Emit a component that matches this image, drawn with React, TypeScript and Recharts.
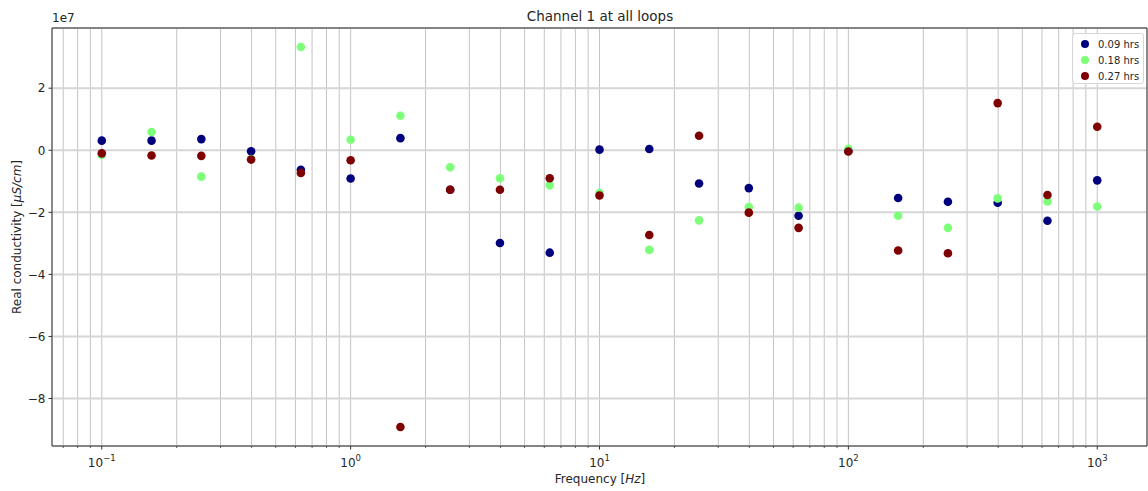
import {
  ScatterChart,
  Scatter,
  XAxis,
  YAxis,
  CartesianGrid,
  ReferenceLine,
} from "recharts";

const FREQ = [
  0.1, 0.1585, 0.2512, 0.3981, 0.631, 1, 1.585, 2.512, 3.981, 6.31, 10,
  15.85, 25.12, 39.81, 63.1, 100, 158.5, 251.2, 398.1, 631, 1000,
];

// values in units of 1e7 µS/cm
const HRS_009 = [
  0.31, 0.31, 0.36, -0.03, -0.63, -0.91, 0.39, -1.27, -2.99, -3.3, 0.02,
  0.04, -1.07, -1.22, -2.11, -0.02, -1.54, -1.66, -1.69, -2.27, -0.97,
];
const HRS_018 = [
  -0.15, 0.59, -0.85, -0.28, 3.33, 0.34, 1.11, -0.55, -0.9, -1.13, -1.38,
  -3.21, -2.26, -1.83, -1.85, 0.05, -2.11, -2.5, -1.55, -1.65, -1.81,
];
const HRS_027 = [
  -0.1, -0.17, -0.18, -0.3, -0.73, -0.32, -8.92, -1.27, -1.27, -0.9, -1.46,
  -2.73, 0.47, -2.01, -2.5, -0.04, -3.23, -3.32, 1.52, -1.44, 0.76,
];

const SERIES_NAMES = ["0.09 hrs", "0.18 hrs", "0.27 hrs"];
const COLORS = ["#00007f", "#7dff7a", "#7f0000"];

const SCALE = 1e7;
const Y_TICKS = [-8, -6, -4, -2, 0, 2];
const X_MAJOR = [0.1, 1, 10, 100, 1000];
const X_MAJOR_LABELS = ["\u22121", "0", "1", "2", "3"];
const X_MINOR_MULT = [2, 3, 4, 5, 6, 7, 8, 9];

const X_MIN = Math.pow(10, -1.2);
const X_MAX = Math.pow(10, 3.2);
const Y_MIN = -9.53 * SCALE;
const Y_MAX = 3.94 * SCALE;

const xTicks: number[] = [];
[0.01, ...X_MAJOR].forEach((d) => {
  if (d >= X_MIN) xTicks.push(d);
  X_MINOR_MULT.forEach((m) => {
    const v = d * m;
    if (v >= X_MIN && v <= X_MAX && v < d * 10) xTicks.push(v);
  });
});
xTicks.sort((a, b) => a - b);

const build = (vals: number[]) =>
  FREQ.map((f, i) => ({ f, v: vals[i] * SCALE }));

const seriesData = [build(HRS_009), build(HRS_018), build(HRS_027)];

const FONT = "'DejaVu Sans', sans-serif";
const TEXT = "#262626";

function LogTick(props: any) {
  const { x, y, payload } = props;
  const idx = X_MAJOR.findIndex(
    (m) => Math.abs(Math.log10(m) - Math.log10(payload.value)) < 1e-6
  );
  const major = idx >= 0;
  return (
    <g>
      <line
        x1={x}
        x2={x}
        y1={y}
        y2={y + (major ? 3.5 : 2)}
        stroke="#333"
        strokeWidth={major ? 1 : 0.8}
      />
      {major && (
        <text
          x={x}
          y={y + 21}
          textAnchor="middle"
          fontSize={12}
          fontFamily={FONT}
          fill={TEXT}
        >
          <tspan>10</tspan>
          <tspan dy={-6} fontSize={8.5}>
            {X_MAJOR_LABELS[idx]}
          </tspan>
        </text>
      )}
    </g>
  );
}

const fmtY = (v: number) => {
  const n = Math.round(v / SCALE);
  return n < 0 ? "\u2212" + Math.abs(n) : String(n);
};

export default function App() {
  return (
    <div
      style={{
        position: "absolute",
        left: 0,
        top: 0,
        width: 1148,
        height: 491,
        background: "#fff",
        fontFamily: FONT,
        color: TEXT,
      }}
    >
      <ScatterChart
        width={1148}
        height={491}
        margin={{ top: 28, right: 1, bottom: 0, left: 0 }}
      >
        <CartesianGrid
          horizontal={false}
          stroke="#c4c4c4"
          strokeWidth={1}
        />
        <CartesianGrid vertical={false} stroke="#d6d6d6" strokeWidth={2} />
        <XAxis
          dataKey="f"
          type="number"
          scale="log"
          domain={[X_MIN, X_MAX]}
          allowDataOverflow
          ticks={xTicks}
          interval={0}
          tick={<LogTick />}
          tickLine={false}
          tickSize={0}
          tickMargin={0}
          height={45}
          axisLine={{ stroke: "#333", strokeWidth: 1 }}
        />
        <YAxis
          dataKey="v"
          type="number"
          domain={[Y_MIN, Y_MAX]}
          allowDataOverflow
          ticks={Y_TICKS.map((t) => t * SCALE)}
          interval={0}
          tickFormatter={fmtY}
          width={52}
          tickSize={3.5}
          tickMargin={3}
          tickLine={{ stroke: "#333" }}
          axisLine={{ stroke: "#333", strokeWidth: 1 }}
          tick={{ fontSize: 12, fontFamily: FONT, fill: TEXT }}
        />
        <ReferenceLine y={Y_MAX} stroke="#333" strokeWidth={1} />
        <ReferenceLine x={X_MAX} stroke="#333" strokeWidth={1} />
        {seriesData.map((d, i) => (
          <Scatter
            key={SERIES_NAMES[i]}
            name={SERIES_NAMES[i]}
            data={d}
            isAnimationActive={false}
            shape={(p: any) => (
              <circle cx={p.cx} cy={p.cy} r={4.3} fill={COLORS[i]} />
            )}
          />
        ))}
      </ScatterChart>

      <div
        style={{
          position: "absolute",
          left: 400,
          width: 400,
          top: 8,
          textAlign: "center",
          fontSize: 13.5,
        }}
      >
        Channel 1 at all loops
      </div>
      <div style={{ position: "absolute", left: 52, top: 11, fontSize: 12 }}>
        1e7
      </div>
      <div
        style={{
          position: "absolute",
          left: 17,
          top: 237,
          transform: "translate(-50%, -50%) rotate(-90deg)",
          whiteSpace: "nowrap",
          fontSize: 12,
        }}
      >
        Real conductivity [<i>μS/cm</i>]
      </div>
      <div
        style={{
          position: "absolute",
          left: 400,
          width: 400,
          top: 472,
          textAlign: "center",
          fontSize: 12,
        }}
      >
        Frequency [<i>Hz</i>]
      </div>
      <div
        style={{
          position: "absolute",
          left: 1072,
          top: 33,
          width: 72,
          height: 51,
          border: "1px solid #d8d8d8",
          borderRadius: 3,
          background: "rgba(255,255,255,0.85)",
          boxSizing: "border-box",
          fontSize: 10,
        }}
      >
        {SERIES_NAMES.map((n, i) => (
          <div
            key={n}
            style={{
              position: "absolute",
              left: 8,
              top: 3 + i * 16,
              height: 14,
              display: "flex",
              alignItems: "center",
              whiteSpace: "nowrap",
            }}
          >
            <span
              style={{
                width: 8,
                height: 8,
                borderRadius: 4,
                background: COLORS[i],
                display: "inline-block",
                marginRight: 9,
              }}
            />
            {n}
          </div>
        ))}
      </div>
    </div>
  );
}
